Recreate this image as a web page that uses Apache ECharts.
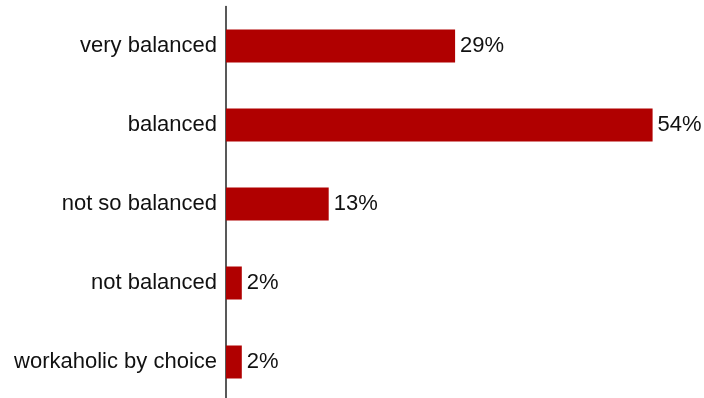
<!DOCTYPE html>
<html lang="en">
<head>
<meta charset="utf-8">
<title>balance</title>
<script src="https://cdn.jsdelivr.net/npm/echarts@6/dist/echarts.min.js"></script>
<style>
  html, body { margin: 0; padding: 0; background: #fff; }
  #main { width: 704px; height: 398px; }
</style>
</head>
<body>
<div id="main"></div>
<script>
// answers, top to bottom
var categories = ['very balanced', 'balanced', 'not so balanced', 'not balanced', 'workaholic by choice'];
var shares = [29, 54, 13, 2, 2];

var chart = echarts.init(document.getElementById('main'));
var option = {
    animation: false,
    grid: { left: 226, width: 474, top: 6.5, height: 395, containLabel: false, outerBoundsMode: 'none' },
    xAxis: {
        type: 'value',
        min: 0,
        max: 60,
        show: false
    },
    yAxis: {
        type: 'category',
        inverse: true,
        data: categories,
        axisLine: { show: true, lineStyle: { color: '#222', width: 1.5 } },
        axisTick: { show: false },
        axisLabel: {
            color: '#111',
            fontFamily: 'Liberation Sans, Arial, sans-serif',
            fontSize: 22,
            margin: 9
        }
    },
    series: [{
        type: 'bar',
        data: shares,
        barWidth: 33,
        itemStyle: { color: '#b00000' },
        label: {
            show: true,
            position: 'right',
            distance: 5,
            formatter: '{c}%',
            color: '#111',
            fontFamily: 'Liberation Sans, Arial, sans-serif',
            fontSize: 22
        }
    }]
};
chart.setOption(option);
</script>
</body>
</html>
